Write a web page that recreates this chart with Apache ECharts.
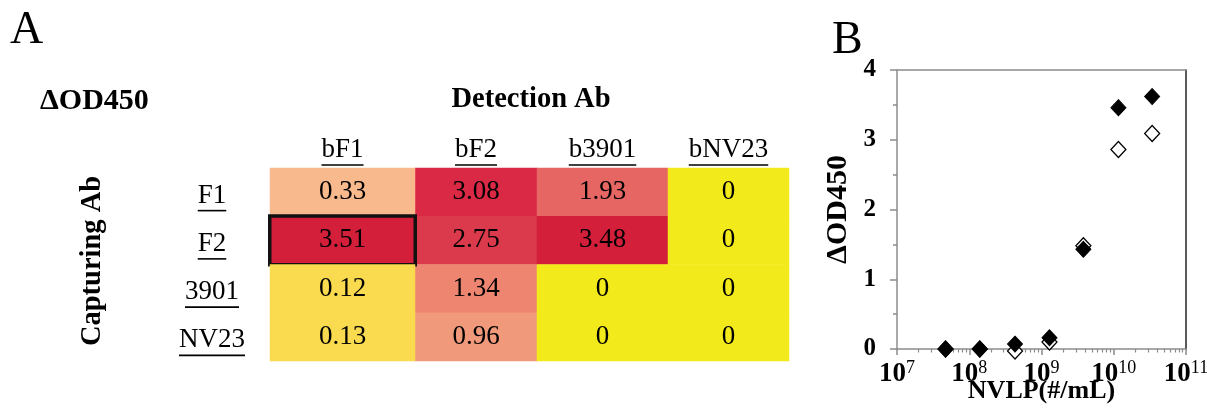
<!DOCTYPE html>
<html>
<head>
<meta charset="utf-8">
<script src="https://cdn.jsdelivr.net/npm/echarts@6/dist/echarts.min.js"></script>
<style>
  html, body { margin: 0; padding: 0; background: #fff; }
  #chart { width: 1207px; height: 410px; }
</style>
</head>
<body>
<div id="chart"></div>
<script>
// ---------- Data (panel A: heatmap) ----------
const detectionAbs = ['bF1', 'bF2', 'b3901', 'bNV23'];
const capturingAbs = ['F1', 'F2', '3901', 'NV23'];
const odF1   = [0.33, 3.08, 1.93, 0];
const odF2   = [3.51, 2.75, 3.48, 0];
const od3901 = [0.12, 1.34, 0, 0];
const odNV23 = [0.13, 0.96, 0, 0];
const highlighted = { row: 1, col: 0 };

// ---------- Data (panel B: scatter) ----------
const nvlpConc   = [4.7e7, 1.4e8, 4.3e8, 1.29e9, 3.8e9, 1.16e10, 3.4e10];
const filledOD   = [0.00, 0.00, 0.07, 0.16, 1.43, 3.46, 3.62];
const openOD     = [0.00, 0.00, -0.03, 0.10, 1.48, 2.86, 3.09];
const yTicks     = [0, 1, 2, 3, 4];
const xMinorTicks = [];
[7, 8, 9, 10].forEach(function (e) {
  for (let m = 2; m <= 9; m++) xMinorTicks.push(m * Math.pow(10, e));
});

// ---------- Layout ----------
const SERIF = "'Liberation Serif', 'Times New Roman', serif";
const colEdges = [270, 415, 537, 668, 789];
const heatTop = 168, heatHeight = 193;
const rows = [odF1, odF2, od3901, odNV23];
const LBL = 27;

const underlineRich = {
  t: { fontFamily: SERIF, fontSize: LBL, color: '#000', lineHeight: LBL + 1 },
  u: { fontFamily: SERIF, fontSize: LBL, color: 'rgba(0,0,0,0)', height: 1.6, lineHeight: 2, backgroundColor: '#000' }
};
const ulFormatter = function (v) { return '{t|' + v + '}\n{u|' + v + '}'; };

const grid = [], xAxis = [], yAxis = [], series = [];

detectionAbs.forEach(function (col, c) {
  grid.push({ left: colEdges[c], top: heatTop, width: colEdges[c + 1] - colEdges[c], height: heatHeight, outerBoundsMode: 'none' });
  xAxis.push({
    type: 'category', gridIndex: c, position: 'top', data: [col],
    axisLine: { show: false }, axisTick: { show: false }, splitLine: { show: false },
    axisLabel: { margin: 2, formatter: ulFormatter, rich: underlineRich }
  });
  yAxis.push({
    type: 'category', gridIndex: c, inverse: true, data: capturingAbs,
    axisLine: { show: false }, axisTick: { show: false }, splitLine: { show: false },
    axisLabel: c === 0
      ? { show: true, align: 'center', margin: 58, padding: [9, 0, 0, 0], formatter: ulFormatter, rich: underlineRich }
      : { show: false }
  });
  const data = rows.map(function (r, ri) {
    const item = { value: [0, ri, r[c]] };
    if (ri === highlighted.row && c === highlighted.col) {
      item.itemStyle = { borderColor: '#111', borderWidth: 3.5 };
    }
    return item;
  });
  series.push({
    type: 'heatmap', xAxisIndex: c, yAxisIndex: c, data: data,
    z: c === highlighted.col ? 5 : 2,
    label: {
      show: true, fontFamily: SERIF, fontSize: LBL, color: '#000',
      formatter: function (p) { return String(p.value[2]); }
    },
    emphasis: { disabled: true }
  });
});

// Panel B grid (index 4)
grid.push({ left: 897, top: 70, width: 289, height: 279, outerBoundsMode: 'none' });
const axisGray = '#8c8c8c';
xAxis.push({
  type: 'log', gridIndex: 4, logBase: 10, min: 1e7, max: 1e11, position: 'bottom',
  name: 'NVLP(#/mL)', nameLocation: 'middle', nameGap: 29, nameMoveOverlap: false,
  nameTextStyle: { fontFamily: SERIF, fontWeight: 'bold', fontSize: 26, color: '#000' },
  axisLine: { show: true, lineStyle: { color: axisGray, width: 1.5 } },
  axisTick: { show: true, length: 6, lineStyle: { color: axisGray, width: 1.5 } },
  splitLine: { show: false },
  axisLabel: {
    margin: 10,
    formatter: function (v) { return '{b|10}{s|' + Math.round(Math.log10(v)) + '}'; },
    rich: {
      b: { fontFamily: SERIF, fontWeight: 'bold', fontSize: 27, color: '#000', verticalAlign: 'bottom' },
      s: { fontFamily: SERIF, fontSize: 18, color: '#000', verticalAlign: 'bottom', padding: [0, 0, 11, 0] }
    }
  }
});
xAxis.push({
  type: 'log', gridIndex: 4, logBase: 10, min: 1e7, max: 1e11, position: 'bottom',
  axisLine: { show: false },
  axisTick: { show: true, length: 3.5, customValues: xMinorTicks, lineStyle: { color: axisGray, width: 1.2 } },
  axisLabel: { show: false }, splitLine: { show: false }
});
yAxis.push({
  type: 'value', gridIndex: 4, min: 0, max: 4, interval: 1,
  name: 'ΔOD450', nameLocation: 'middle', nameGap: 44, nameRotate: 90, nameMoveOverlap: false,
  nameTextStyle: { fontFamily: SERIF, fontWeight: 'bold', fontSize: 30, color: '#000' },
  axisLine: { show: true, lineStyle: { color: axisGray, width: 1.5 } },
  axisTick: { show: true, length: 7, lineStyle: { color: axisGray, width: 1.5 } },
  minorTick: { show: true, splitNumber: 2, length: 4, lineStyle: { color: axisGray, width: 1.5 } },
  splitLine: { show: false }, minorSplitLine: { show: false },
  axisLabel: {
    margin: 21, fontFamily: SERIF, fontWeight: 'bold', fontSize: 25, color: '#000',
    customValues: yTicks
  }
});
yAxis.push({
  type: 'value', gridIndex: 4, min: 0, max: 4, position: 'right',
  axisLine: { show: true, onZero: false, lineStyle: { color: '#222', width: 1.5 } },
  axisTick: { show: false }, axisLabel: { show: false }, splitLine: { show: false }
});
xAxis.push({
  type: 'log', gridIndex: 4, logBase: 10, min: 1e7, max: 1e11, position: 'top',
  axisLine: { show: true, onZero: false, lineStyle: { color: axisGray, width: 1.5 } },
  axisTick: { show: false }, axisLabel: { show: false }, splitLine: { show: false }
});

series.push({
  type: 'scatter', xAxisIndex: 4, yAxisIndex: 4, clip: false, z: 3,
  symbol: 'diamond', symbolSize: [15, 16],
  itemStyle: { color: '#fff', borderColor: '#000', borderWidth: 1.3, opacity: 1 },
  data: nvlpConc.map(function (x, i) { return [x, openOD[i]]; })
});
series.push({
  type: 'scatter', xAxisIndex: 4, yAxisIndex: 4, clip: false, z: 4,
  symbol: 'diamond', symbolSize: [15, 16],
  itemStyle: { color: '#000', borderColor: '#000', borderWidth: 1, opacity: 1 },
  data: nvlpConc.map(function (x, i) { return [x, filledOD[i]]; })
});

const option = {
  backgroundColor: '#fff',
  animation: false,
  grid: grid,
  xAxis: xAxis,
  yAxis: yAxis,
  visualMap: {
    type: 'piecewise', show: false, dimension: 2, seriesIndex: [0, 1, 2, 3],
    pieces: [
      { lte: 0.05, color: '#F3EA1B' },
      { gt: 0.05, lte: 0.2, color: '#FADA4E' },
      { gt: 0.2, lte: 0.6, color: '#F8BA8D' },
      { gt: 0.6, lte: 1.15, color: '#F19A7B' },
      { gt: 1.15, lte: 1.6, color: '#EE8571' },
      { gt: 1.6, lte: 2.3, color: '#E66663' },
      { gt: 2.3, lte: 2.9, color: '#DB3A4C' },
      { gt: 2.9, lte: 3.3, color: '#D92944' },
      { gt: 3.3, color: '#D31F3A' }
    ]
  },
  graphic: [
    { type: 'text', left: 10, top: 8, style: { text: 'A', font: '46px ' + SERIF, fill: '#000' } },
    { type: 'text', left: 832, top: 18, style: { text: 'B', font: '46px ' + SERIF, fill: '#000' } },
    { type: 'text', left: 40, top: 86, style: { text: 'ΔOD450', font: 'bold 30px ' + SERIF, fill: '#000' } },
    { type: 'text', x: 531, y: 100, style: { text: 'Detection Ab', font: 'bold 28.5px ' + SERIF, fill: '#000', align: 'center', verticalAlign: 'middle' } },
    { type: 'text', x: 93, y: 261, rotation: Math.PI / 2, style: { text: 'Capturing Ab', font: 'bold 28.5px ' + SERIF, fill: '#000', align: 'center', verticalAlign: 'middle' } }
  ],
  series: series
};

const chart = echarts.init(document.getElementById('chart'), null, { renderer: 'canvas' });
chart.setOption(option);
</script>
</body>
</html>
